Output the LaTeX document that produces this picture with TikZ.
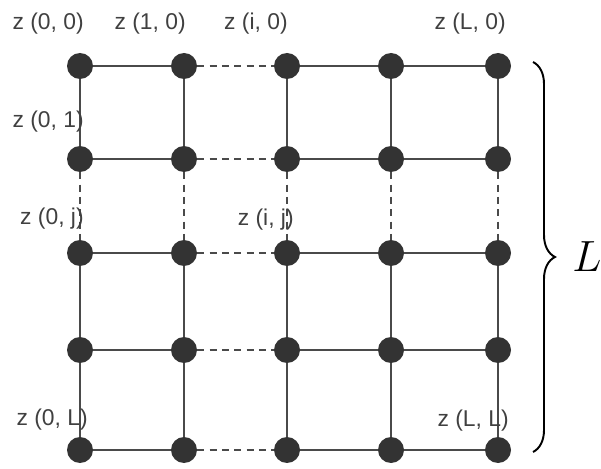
\documentclass[tikz,border=0pt]{standalone}
\usepackage{fontspec}
\setsansfont{Liberation Sans}
\usepackage{tikz}
\usetikzlibrary{positioning}
\usetikzlibrary{decorations.pathreplacing}
\definecolor{dotgray}{HTML}{333333}
\definecolor{linegray}{HTML}{4A4A4A}

\begin{document}
\begin{tikzpicture}[x=0.02cm, y=-0.02cm,
    dot/.style={circle, fill=dotgray, minimum size=0.52cm, inner sep=0pt},
    link/.style={draw=linegray, line width=1.1pt},
    gap/.style={link, dash pattern=on 4pt off 3pt},
    lbl/.style={font=\sffamily\fontsize{13}{15}\selectfont, text=black!75, inner sep=0pt, anchor=south east}]
    \useasboundingbox (0,0) rectangle (601,469);

    % Lattice points
    \foreach \i/\x in {0/80, 1/184, 2/287, 3/391, 4/498} {
        \foreach \j/\y in {0/66, 1/159, 2/253, 3/350, 4/450} {
            \node[dot] (d-\i-\j) at (\x,\y) {};
        }
    }

    % Horizontal links
    \foreach \j in {0,...,4} {
        \draw[link] (d-0-\j) -- (d-1-\j);
        \draw[gap] (d-1-\j) -- (d-2-\j);
        \draw[link] (d-2-\j) -- (d-3-\j);
        \draw[link] (d-3-\j) -- (d-4-\j);
    }

    % Vertical links
    \foreach \i in {0,...,4} {
        \draw[link] (d-\i-0) -- (d-\i-1);
        \draw[gap] (d-\i-1) -- (d-\i-2);
        \draw[link] (d-\i-2) -- (d-\i-3);
        \draw[link] (d-\i-3) -- (d-\i-4);
    }

    % Labels
    \node[lbl] (z00) at (84,35) {z (0, 0)};
    \node[lbl] (z10) at (186,35) {z (1, 0)};
    \node[lbl] (zi0) at (288,35) {z (i, 0)};
    \node[lbl] (zL0) at (506,35) {z (L, 0)};
    \node[lbl] (z01) at (84,133) {z (0, 1)};
    \node[lbl] (z0j) at (84,230) {z (0, j)};
    \node[lbl] (zij) at (294,231) {z (i, j)};
    \node[lbl] (z0L) at (88,431) {z (0, L)};
    \node[lbl] (zLL) at (509,432) {z (L, L)};

    % Brace
    \coordinate (btop) at (533,62);
    \coordinate (bbot) at (533,452);
    \draw[line width=1.1pt, decorate, decoration={brace, amplitude=0.44cm}] (btop) -- (bbot);
    \node[inner sep=0pt] (size) at (587,257) {\fontsize{25}{30}\selectfont$L$};
\end{tikzpicture}
\end{document}
